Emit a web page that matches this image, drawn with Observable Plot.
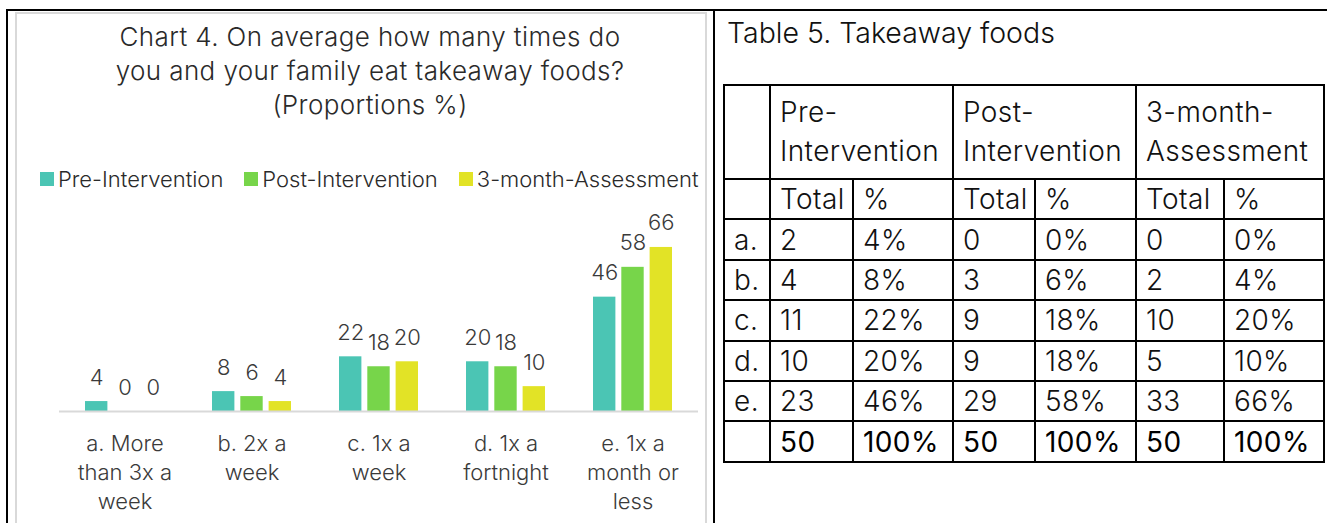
<!DOCTYPE html>
<html>
<head>
<meta charset="utf-8">
<script src="https://cdn.jsdelivr.net/npm/d3@7"></script>
<script src="https://cdn.jsdelivr.net/npm/@observablehq/plot@0.6"></script>
<style>
  html, body { margin: 0; padding: 0; background: #fff; }
  body { width: 1327px; height: 523px; overflow: hidden; position: relative; font-family: Inter, "Liberation Sans", sans-serif; font-weight: 300; }
  .abs { position: absolute; }
  #blackTop { left: 6px; top: 9px; width: 1321px; height: 2px; background: #000; }
  #blackLeft { left: 6px; top: 9px; width: 2px; height: 514px; background: #000; }
  #blackMid { left: 713px; top: 9px; width: 2px; height: 514px; background: #000; }
  #chartFrame { left: 15px; top: 12px; width: 688px; height: 520px; border: 2px solid #d9d9d9; border-bottom: none; }
  #title { left: 15px; top: 20px; width: 710px; text-align: center; font-size: 26px; letter-spacing: 0.4px; line-height: 34px; color: #2a2a2a; }
  #legend { left: 40px; top: 167px; display: flex; font-size: 22px; color: #2a2a2a; line-height: 24px; }
  .li { display: flex; align-items: center; margin-right: 21px; }
  .sw { width: 14px; height: 14px; margin-right: 4px; }
  #plot { left: 15px; top: 200px; }
  #tableTitle { left: 727px; top: 14px; font-size: 28.5px; color: #111; line-height: 38px; }
  #tbl { left: 723px; top: 84px; border-collapse: collapse; font-size: 28px; letter-spacing: 0.4px; color: #111; }
  #tbl td { border: 2px solid #000; padding: 0 0 0 9px; height: 38.4px; line-height: 36px; vertical-align: middle; white-space: pre; }
  #tbl tr.h1 td { height: 92px; line-height: 39px; }
  #tbl tr.tot td { color: #000; font-weight: 400; }
</style>
</head>
<body>
<div id="blackTop" class="abs"></div>
<div id="blackLeft" class="abs"></div>
<div id="blackMid" class="abs"></div>
<div id="chartFrame" class="abs"></div>
<div id="title" class="abs"></div>
<div id="legend" class="abs"></div>
<div id="plot" class="abs"></div>
<div id="tableTitle" class="abs"></div>
<table id="tbl" class="abs"></table>
<script>
// ---------- data ----------
const chartTitle = ["Chart 4. On average how many times do", "you and your family eat takeaway foods?", "(Proportions %)"];
const categories = ["a", "b", "c", "d", "e"];
const categoryLabels = ["a. More\nthan 3x a\nweek", "b. 2x a\nweek", "c. 1x a\nweek", "d. 1x a\nfortnight", "e. 1x a\nmonth or\nless"];
const series = ["Pre-Intervention", "Post-Intervention", "3-month-Assessment"];
const preValues = [4, 8, 22, 20, 46];
const postValues = [0, 6, 18, 18, 58];
const threeMonthValues = [0, 4, 20, 10, 66];
const seriesColors = ["#4bc5b4", "#77d54a", "#e2e326"];

const tableTitle = "Table 5. Takeaway foods";
const tableHeaders = ["Pre-\nIntervention", "Post-\nIntervention", "3-month-\nAssessment"];
const subHeaders = ["Total", "%"];
const rowLabels = ["a.", "b.", "c.", "d.", "e."];
const preTotals = [2, 4, 11, 10, 23];
const prePercents = ["4%", "8%", "22%", "20%", "46%"];
const postTotals = [0, 3, 9, 9, 29];
const postPercents = ["0%", "6%", "18%", "18%", "58%"];
const threeMonthTotals = [0, 2, 10, 5, 33];
const threeMonthPercents = ["0%", "4%", "20%", "10%", "66%"];
const grandTotals = [50, 50, 50];
const grandPercents = ["100%", "100%", "100%"];

// ---------- title & legend ----------
document.getElementById("title").innerHTML = chartTitle.join("<br>");
const legend = document.getElementById("legend");
series.forEach((s, i) => {
  const li = document.createElement("div");
  li.className = "li";
  li.innerHTML = `<span class="sw" style="background:${seriesColors[i]}"></span><span>${s}</span>`;
  legend.appendChild(li);
});

// ---------- chart ----------
const seriesValues = [preValues, postValues, threeMonthValues];
const rows = [];
seriesValues.forEach((vals, si) => vals.forEach((v, ci) => rows.push({cat: categories[ci], series: series[si], si, value: v})));

const width = 690, height = 323, marginLeft = 44, marginRight = 7, marginTop = 37, marginBottom = 112;
const xOpts = {type: "band", domain: categories, paddingInner: 0.38, paddingOuter: 0.2};
const xs = d3.scaleBand(categories, [marginLeft, width - marginRight]).paddingInner(0.38).paddingOuter(0.2);
const bw = xs.bandwidth();
const gap = 6;
const barW = (bw - 2 * gap) / 3;
const stepW = barW + gap;

const marks = [];
series.forEach((s, i) => {
  const data = rows.filter(d => d.si === i);
  marks.push(Plot.barY(data, {
    x: "cat", y: "value", fill: seriesColors[i],
    insetLeft: i * stepW, insetRight: (2 - i) * stepW
  }));
  marks.push(Plot.text(data, {
    x: "cat", y: "value", text: d => String(d.value),
    dx: (i - 1) * stepW, dy: -24, lineAnchor: "middle",
    fontSize: 22, fill: "#3a3a3a"
  }));
});
marks.push(Plot.ruleY([0], {stroke: "#d9d9d9", strokeWidth: 2}));
marks.push(Plot.axisX({
  tickSize: 0, tickPadding: 19, fontSize: 22, lineHeight: 1.32,
  tickFormat: c => categoryLabels[categories.indexOf(c)], fill: "#3a3a3a"
}));

const chart = Plot.plot({
  width, height, marginLeft, marginRight, marginTop, marginBottom,
  style: {fontFamily: "Inter, 'Liberation Sans', sans-serif", fontWeight: 300, background: "transparent", overflow: "visible"},
  x: {...xOpts, label: null, axis: null},
  y: {domain: [0, 70], axis: null},
  marks
});
document.getElementById("plot").appendChild(chart);

// ---------- table ----------
document.getElementById("tableTitle").textContent = tableTitle;
const tbl = document.getElementById("tbl");
const colWidths = [46, 83, 100, 82, 101, 88, 100];
const cg = document.createElement("colgroup");
colWidths.forEach(w => { const c = document.createElement("col"); c.style.width = w + "px"; cg.appendChild(c); });
tbl.appendChild(cg);
function addRow(cells, cls) {
  const tr = document.createElement("tr");
  if (cls) tr.className = cls;
  cells.forEach(c => {
    const td = document.createElement("td");
    if (typeof c === "object" && c !== null) { td.textContent = c.t; td.colSpan = c.span; }
    else td.textContent = c;
    tr.appendChild(td);
  });
  tbl.appendChild(tr);
}
addRow([""].concat(tableHeaders.map(h => ({t: h, span: 2}))), "h1");
addRow([""].concat(tableHeaders.flatMap(() => subHeaders)));
rowLabels.forEach((r, i) => addRow([r, preTotals[i], prePercents[i], postTotals[i], postPercents[i], threeMonthTotals[i], threeMonthPercents[i]]));
addRow(["", grandTotals[0], grandPercents[0], grandTotals[1], grandPercents[1], grandTotals[2], grandPercents[2]], "tot");
</script>
</body>
</html>
